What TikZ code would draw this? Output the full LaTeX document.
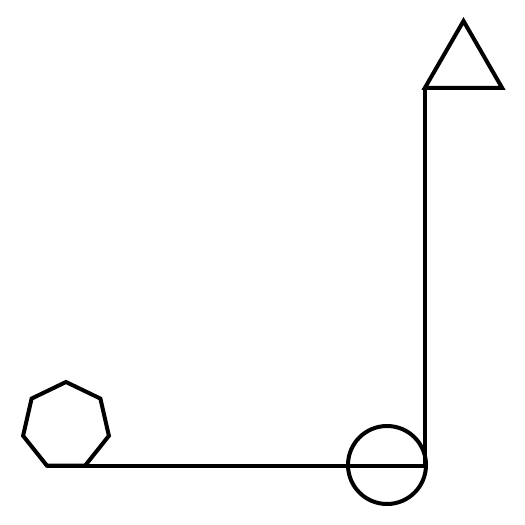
\documentclass[tikz,border=0pt]{standalone}
\usetikzlibrary{shapes.geometric}
\begin{document}
\begin{tikzpicture}[x=1pt,y=-1pt,line width=4pt,
  shp/.style={draw=black,line width=4pt,inner sep=0pt,outer sep=0pt},
  hept/.style={shp,regular polygon,regular polygon sides=7,minimum size=88pt},
  tri/.style={shp,regular polygon,regular polygon sides=3,minimum size=89pt},
  circ/.style={shp,circle,minimum size=78pt},
  conn/.style={draw=black,line width=4pt,line join=miter}]
\useasboundingbox (0,0) rectangle (525,525);
\node[hept] (h) at (66,426) {};
\node[circ] (c) at (387,465) {};
\node[tri] (t) at (463.5,65.5) {};
\draw[conn] (h.corner 4) -| (t.corner 2);
\end{tikzpicture}
\end{document}
